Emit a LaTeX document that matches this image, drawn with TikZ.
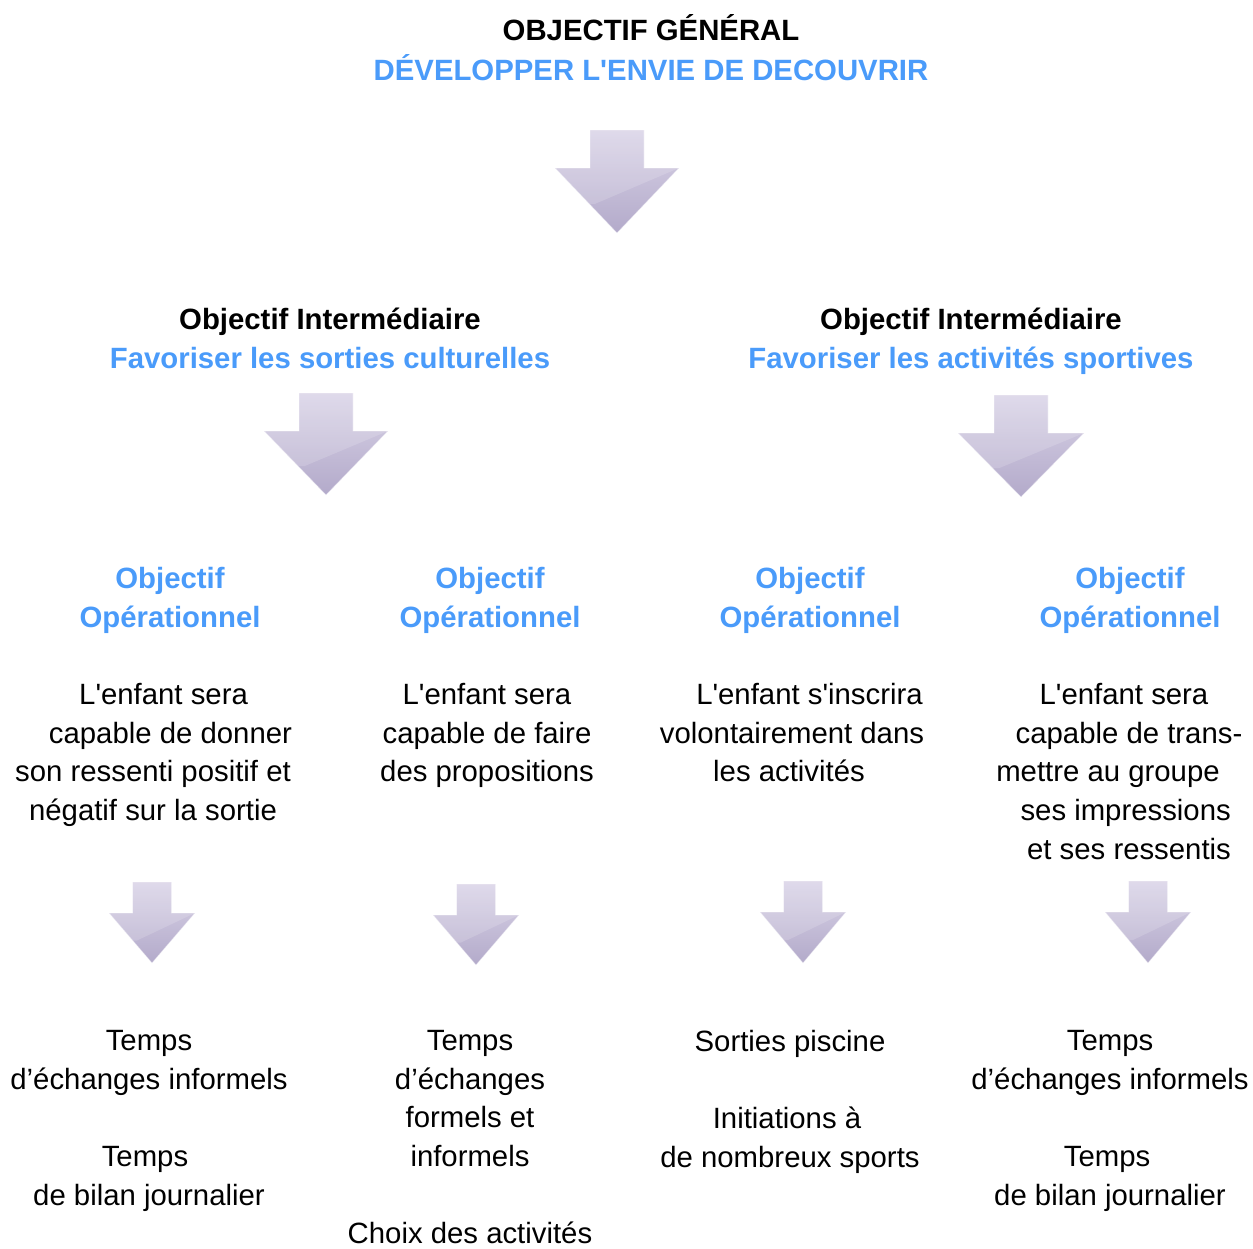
\documentclass[tikz,border=0pt]{standalone}
\usepackage{fontspec}
\setmainfont{Liberation Sans}[Ligatures=TeXOff]
\definecolor{objblue}{HTML}{4A9BFA}
\definecolor{arrtop}{HTML}{D9D3E7}
\definecolor{arrbot}{HTML}{B3AACA}
\newsavebox\shlnbox
\newcommand\shln[2]{\sbox\shlnbox{#2}\hbox to \wd\shlnbox{\hskip#1\usebox\shlnbox\hss}}
\tikzset{
  pics/darr/.style n args={4}{code={
    \path[top color=arrtop,bottom color=arrbot]
      (-#2,0) -- (#2,0) -- (#2,#3) -- (#1,#3) -- (0,#4) -- (-#1,#3) -- (-#2,#3) -- cycle;
    \begin{scope}
      \clip (-#2,0) -- (#2,0) -- (#2,#3) -- (#1,#3) -- (0,#4) -- (-#1,#3) -- (-#2,#3) -- cycle;
      \fill[white,opacity=0.16] (-#1,-1) -- (#1,-1) -- (#1,#3) -- (-0.35*#1,{#3+0.55*(#4-#3)}) -- (-#1,{#3+0.55*(#4-#3)}) -- cycle;
    \end{scope}
    \draw[white,opacity=0.45,line width=0.6pt]
      (-#2,0) -- (#2,0) -- (#2,#3) -- (#1,#3) -- (0,#4) -- (-#1,#3) -- (-#2,#3) -- cycle;
  }},
  txt/.style={inner sep=0pt,align=center,font=\fontsize{22}{29}\selectfont},
  head/.style={txt,font=\fontsize{22}{29}\selectfont\bfseries},
  bluehead/.style={head,text=objblue}
}
\begin{document}
\begin{tikzpicture}[x=0.75pt,y=-0.75pt]
\useasboundingbox (0,0) rectangle (1253,1249);
% title
\node[head,anchor=base] (t1) at (651,40.5) {OBJECTIF GÉNÉRAL};
\node[bluehead,anchor=base] (t2) at (651,80.5) {DÉVELOPPER L'ENVIE DE DECOUVRIR};
\pic at (617,130) {darr={62}{27}{38}{103}};
% intermediate objectives
\node[head,anchor=north] (i1) at (330,308) {Objectif Intermédiaire\\\textcolor{objblue}{Favoriser les sorties culturelles}};
\node[head,anchor=north] (i2) at (971,308) {Objectif Intermédiaire\\\textcolor{objblue}{Favoriser les activités sportives}};
\pic at (326,393) {darr={62}{27}{38}{102}};
\pic at (1021,395) {darr={63}{27}{38}{102}};
% operational objectives
\node[bluehead,anchor=north] (o1) at (170,567) {Objectif\\Opérationnel};
\node[bluehead,anchor=north] (o2) at (490,567) {Objectif\\Opérationnel};
\node[bluehead,anchor=north] (o3) at (810,567) {Objectif\\Opérationnel};
\node[bluehead,anchor=north] (o4) at (1130,567) {Objectif\\Opérationnel};
% descriptions
\node[txt,anchor=north] (d1) at (153,683) {\shln{7.9pt}{L'enfant sera}\\\shln{13.1pt}{capable de donner}\\son ressenti positif et\\négatif sur la sortie};
\node[txt,anchor=north] (d2) at (487,683) {L'enfant sera\\capable de faire\\des propositions};
\node[txt,anchor=north] (d3) at (792,683) {\shln{13.1pt}{L'enfant s'inscrira}\\volontairement dans\\\shln{-2.25pt}{les activités}};
\node[txt,anchor=north] (d4) at (1129,683) {\shln{-3.75pt}{L'enfant sera}\\capable de trans-\\\shln{-15.75pt}{mettre au groupe}\\\shln{-2.5pt}{ses impressions}\\et ses ressentis};
% small arrows
\pic at (152,882) {darr={43}{19.5}{31}{81}};
\pic at (476,884) {darr={43}{19.5}{31}{81}};
\pic at (803,881) {darr={43}{19.5}{31}{82}};
\pic at (1148,881) {darr={43}{19.5}{31}{82}};
% actions
\node[txt,anchor=north] (a1) at (149,1030) {Temps\\d’échanges informels\\[29pt]\shln{-3pt}{Temps}\\de bilan journalier};
\node[txt,anchor=north] (a2) at (470,1030) {Temps\\d’échanges\\formels et\\informels\\[29pt]Choix des activités};
\node[txt,anchor=north] (a3) at (790,1030) {Sorties piscine\\[29pt]\shln{-2.25pt}{Initiations à}\\de nombreux sports};
\node[txt,anchor=north] (a4) at (1110,1030) {Temps\\d’échanges informels\\[29pt]\shln{-2.25pt}{Temps}\\de bilan journalier};
\end{tikzpicture}
\end{document}
